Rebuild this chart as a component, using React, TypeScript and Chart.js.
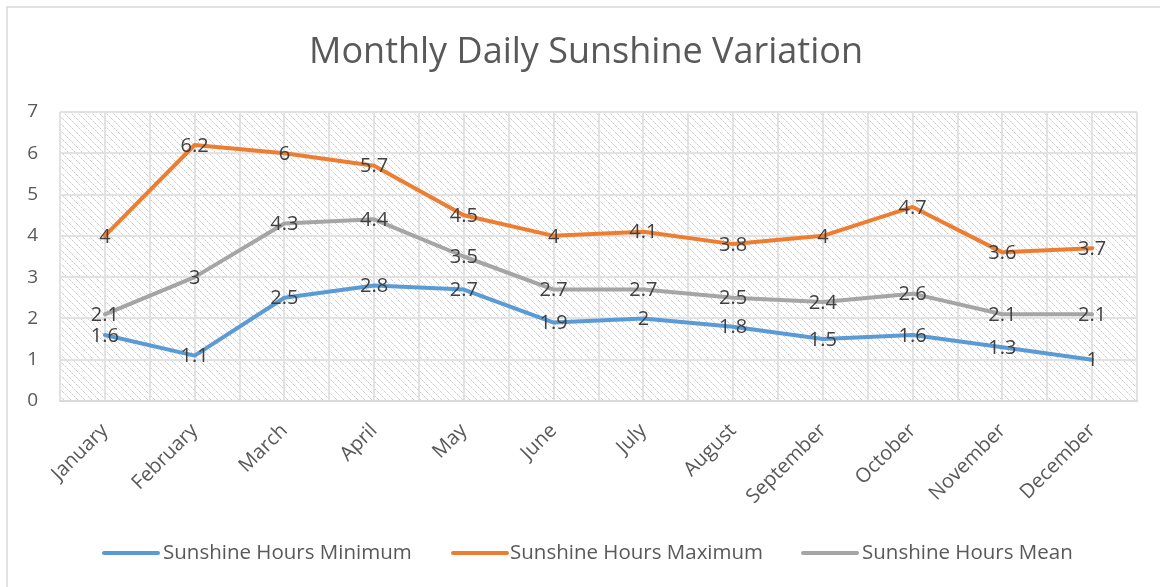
import React, { useEffect, useRef } from "react";
import { Chart, registerables } from "chart.js";

Chart.register(...registerables);

const months = ["January", "February", "March", "April", "May", "June", "July", "August", "September", "October", "November", "December"];
const sunMin = [1.6, 1.1, 2.5, 2.8, 2.7, 1.9, 2, 1.8, 1.5, 1.6, 1.3, 1];
const sunMax = [4, 6.2, 6, 5.7, 4.5, 4, 4.1, 3.8, 4, 4.7, 3.6, 3.7];
const sunMean = [2.1, 3, 4.3, 4.4, 3.5, 2.7, 2.7, 2.5, 2.4, 2.6, 2.1, 2.1];
const seriesNames = ["Sunshine Hours Minimum", "Sunshine Hours Maximum", "Sunshine Hours Mean"];
const seriesColors = ["#5B9BD5", "#ED7D31", "#A5A5A5"];
const titleText = "Monthly Daily Sunshine Variation";

const FONT = "'Open Sans', sans-serif";

function makePattern(ctx: CanvasRenderingContext2D) {
  const c = document.createElement("canvas");
  const n = 7;
  c.width = n;
  c.height = n;
  const p = c.getContext("2d")!;
  p.fillStyle = "#ffffff";
  p.fillRect(0, 0, n, n);
  for (let i = 0; i < n; i++) {
    p.fillStyle = i % 2 === 0 ? "#cdcdcd" : "#e8e8e8";
    p.fillRect(i, i, 1, 1);
  }
  return ctx.createPattern(c, "repeat");
}

const decorPlugin = {
  id: "decor",
  beforeDraw(chart: any) {
    const { ctx, chartArea: a } = chart;
    ctx.save();
    ctx.fillStyle = "#ffffff";
    ctx.fillRect(0, 0, chart.width, chart.height);
    ctx.strokeStyle = "#d9d9d9";
    ctx.lineWidth = 1.5;
    ctx.strokeRect(7, 7, chart.width + 20, chart.height + 20);
    const pat = makePattern(ctx);
    if (pat) {
      ctx.fillStyle = pat;
      ctx.fillRect(a.left, a.top, a.right - a.left, a.bottom - a.top);
    }
    // vertical gridlines at category boundaries and centers
    const step = (a.right - a.left) / months.length / 2;
    ctx.strokeStyle = "#e2e2e2";
    ctx.lineWidth = 2;
    for (let i = 0; i <= months.length * 2; i++) {
      const x = Math.round(a.left + i * step);
      ctx.beginPath();
      ctx.moveTo(x, a.top);
      ctx.lineTo(x, a.bottom);
      ctx.stroke();
    }
    // title
    ctx.fillStyle = "#595959";
    ctx.font = `36px ${FONT}`;
    ctx.textAlign = "center";
    ctx.textBaseline = "middle";
    ctx.fillText(titleText, 586, 53);
    ctx.restore();
  },
  afterDatasetsDraw(chart: any) {
    const { ctx } = chart;
    ctx.save();
    ctx.font = `20px ${FONT}`;
    ctx.fillStyle = "#404040";
    ctx.textAlign = "center";
    ctx.textBaseline = "middle";
    chart.data.datasets.forEach((ds: any, di: number) => {
      const meta = chart.getDatasetMeta(di);
      meta.data.forEach((pt: any, i: number) => {
        ctx.fillText(String(ds.data[i]), pt.x, pt.y + 1);
      });
    });
    // legend
    const items = [
      { lx: 104, tx: 163 },
      { lx: 453, tx: 510 },
      { lx: 803, tx: 862 },
    ];
    const ly = 553;
    ctx.font = `20.5px ${FONT}`;
    ctx.textAlign = "left";
    ctx.fillStyle = "#595959";
    items.forEach((it, i) => {
      ctx.strokeStyle = seriesColors[i];
      ctx.lineWidth = 4;
      ctx.lineCap = "round";
      ctx.beginPath();
      ctx.moveTo(it.lx, ly);
      ctx.lineTo(it.lx + 54, ly);
      ctx.stroke();
      ctx.fillText(seriesNames[i], it.tx, ly);
    });
    ctx.restore();
  },
};

export default function App() {
  const ref = useRef<HTMLCanvasElement>(null);
  useEffect(() => {
    if (!ref.current) return;
    const data = [sunMin, sunMax, sunMean];
    const chart = new Chart(ref.current, {
      type: "line",
      data: {
        labels: months,
        datasets: data.map((d, i) => ({
          label: seriesNames[i],
          data: d,
          borderColor: seriesColors[i],
          backgroundColor: seriesColors[i],
          borderWidth: 4,
          pointRadius: 0,
          tension: 0,
          borderJoinStyle: "round" as const,
          borderCapStyle: "round" as const,
        })),
      },
      options: {
        animation: false,
        responsive: false,
        maintainAspectRatio: false,
        devicePixelRatio: 1,
        layout: { padding: { left: 0, right: 23, top: 112, bottom: 0 } },
        plugins: {
          legend: { display: false },
          title: { display: false },
          tooltip: { enabled: false },
        },
        scales: {
          x: {
            type: "category",
            offset: true,
            grid: { display: false, drawTicks: false },
            border: { display: true, color: "#d9d9d9", width: 2 },
            ticks: {
              autoSkip: false,
              minRotation: 45,
              maxRotation: 45,
              padding: 18,
              color: "#595959",
              font: { family: FONT, size: 20 },
            },
            afterFit(scale: any) {
              scale.height = 186;
            },
          },
          y: {
            min: 0,
            max: 7,
            ticks: {
              stepSize: 1,
              padding: 22,
              color: "#595959",
              font: { family: FONT, size: 19 },
            },
            grid: { color: "#e2e2e2", lineWidth: 2, drawTicks: false },
            border: { display: false },
            afterFit(scale: any) {
              scale.width = 60;
            },
          },
        },
      },
      plugins: [decorPlugin],
    });
    return () => chart.destroy();
  }, []);
  return (
    <div style={{ position: "fixed", left: 0, top: 0, width: 1160, height: 587, background: "#fff" }}>
      <canvas ref={ref} width={1160} height={587} style={{ width: 1160, height: 587 }} />
    </div>
  );
}
